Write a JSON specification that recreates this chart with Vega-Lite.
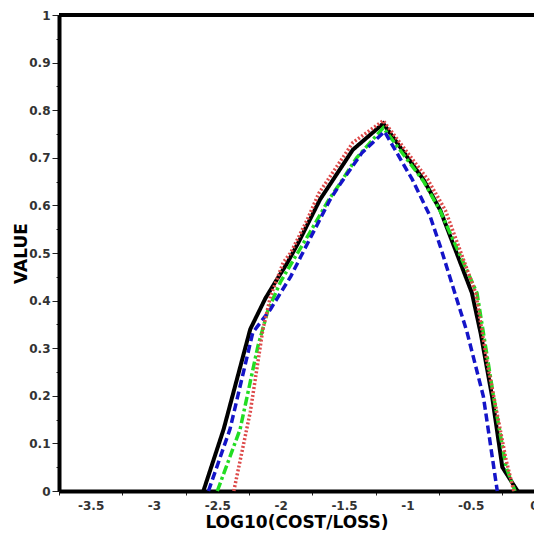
{
  "$schema": "https://vega.github.io/schema/vega-lite/v6.json",
  "width": 475,
  "height": 476,
  "autosize": {"type": "none"},
  "padding": {"left": 59, "top": 15, "right": 0, "bottom": 43},
  "background": "white",
  "config": {
    "view": {"stroke": null},
    "axis": {
      "grid": false,
      "domainColor": "black",
      "domainWidth": 4,
      "tickColor": "#222",
      "tickWidth": 1,
      "labelFont": "DejaVu Sans",
      "labelFontWeight": "bold",
      "labelFontSize": 12,
      "labelColor": "#333",
      "titleFont": "DejaVu Sans",
      "titleFontWeight": "bold",
      "titleFontSize": 17,
      "titleColor": "black"
    }
  },
  "data": {
    "values": [
      {"s": "black", "x": -2.61, "y": 0},
      {"s": "black", "x": -2.45, "y": 0.13},
      {"s": "black", "x": -2.33, "y": 0.25},
      {"s": "black", "x": -2.24, "y": 0.34},
      {"s": "black", "x": -2.12, "y": 0.405},
      {"s": "black", "x": -2.04, "y": 0.44},
      {"s": "black", "x": -1.95, "y": 0.478},
      {"s": "black", "x": -1.86, "y": 0.522},
      {"s": "black", "x": -1.69, "y": 0.612},
      {"s": "black", "x": -1.43, "y": 0.717},
      {"s": "black", "x": -1.19, "y": 0.772},
      {"s": "black", "x": -0.87, "y": 0.653},
      {"s": "black", "x": -0.74, "y": 0.59},
      {"s": "black", "x": -0.66, "y": 0.534},
      {"s": "black", "x": -0.49, "y": 0.416},
      {"s": "black", "x": -0.42, "y": 0.33},
      {"s": "black", "x": -0.33, "y": 0.197},
      {"s": "black", "x": -0.25, "y": 0.05},
      {"s": "black", "x": -0.13, "y": 0},
      {"s": "blue", "x": -2.57, "y": 0},
      {"s": "blue", "x": -2.4, "y": 0.13},
      {"s": "blue", "x": -2.22, "y": 0.333},
      {"s": "blue", "x": -2.08, "y": 0.382},
      {"s": "blue", "x": -1.92, "y": 0.451},
      {"s": "blue", "x": -1.84, "y": 0.493},
      {"s": "blue", "x": -1.61, "y": 0.612},
      {"s": "blue", "x": -1.53, "y": 0.645},
      {"s": "blue", "x": -1.36, "y": 0.71},
      {"s": "blue", "x": -1.18, "y": 0.755},
      {"s": "blue", "x": -0.96, "y": 0.654},
      {"s": "blue", "x": -0.82, "y": 0.577},
      {"s": "blue", "x": -0.74, "y": 0.514},
      {"s": "blue", "x": -0.53, "y": 0.335},
      {"s": "blue", "x": -0.4, "y": 0.199},
      {"s": "blue", "x": -0.29, "y": 0},
      {"s": "green", "x": -2.5, "y": 0},
      {"s": "green", "x": -2.32, "y": 0.13},
      {"s": "green", "x": -2.18, "y": 0.304},
      {"s": "green", "x": -2.1, "y": 0.38},
      {"s": "green", "x": -2.0, "y": 0.44},
      {"s": "green", "x": -1.9, "y": 0.485},
      {"s": "green", "x": -1.77, "y": 0.543},
      {"s": "green", "x": -1.62, "y": 0.612},
      {"s": "green", "x": -1.55, "y": 0.639},
      {"s": "green", "x": -1.4, "y": 0.7},
      {"s": "green", "x": -1.19, "y": 0.763},
      {"s": "green", "x": -0.87, "y": 0.65},
      {"s": "green", "x": -0.74, "y": 0.588},
      {"s": "green", "x": -0.45, "y": 0.416},
      {"s": "green", "x": -0.32, "y": 0.2},
      {"s": "green", "x": -0.22, "y": 0.05},
      {"s": "green", "x": -0.15, "y": 0},
      {"s": "red", "x": -2.37, "y": 0},
      {"s": "red", "x": -2.24, "y": 0.166},
      {"s": "red", "x": -2.14, "y": 0.34},
      {"s": "red", "x": -2.08, "y": 0.409},
      {"s": "red", "x": -1.98, "y": 0.48},
      {"s": "red", "x": -1.92, "y": 0.501},
      {"s": "red", "x": -1.79, "y": 0.57},
      {"s": "red", "x": -1.7, "y": 0.625},
      {"s": "red", "x": -1.43, "y": 0.732},
      {"s": "red", "x": -1.19, "y": 0.778},
      {"s": "red", "x": -0.84, "y": 0.655},
      {"s": "red", "x": -0.7, "y": 0.59},
      {"s": "red", "x": -0.46, "y": 0.416},
      {"s": "red", "x": -0.37, "y": 0.27},
      {"s": "red", "x": -0.22, "y": 0.065},
      {"s": "red", "x": -0.16, "y": 0}
    ]
  },
  "encoding": {
    "x": {
      "field": "x",
      "type": "quantitative",
      "scale": {"domain": [-3.75, 0], "nice": false, "zero": false},
      "axis": {
        "title": "LOG10(COST/LOSS)",
        "values": [-3.75, -3.5, -3.25, -3, -2.75, -2.5, -2.25, -2, -1.75, -1.5, -1.25, -1, -0.75, -0.5, -0.25, 0],
        "labelExpr": "abs(datum.value*2 - round(datum.value*2)) < 0.001 ? (datum.value + '') : ''",
        "labelFlush": false,
        "labelOverlap": false,
        "tickSize": 4,
        "tickOpacity": {"condition": {"test": "abs(datum.value*2 - round(datum.value*2)) < 0.001", "value": 0}, "value": 1},
        "labelPadding": 5,
        "titlePadding": 3
      }
    },
    "y": {
      "field": "y",
      "type": "quantitative",
      "scale": {"domain": [0, 1], "nice": false},
      "axis": {
        "title": "VALUE",
        "values": [0, 0.05, 0.1, 0.15, 0.2, 0.25, 0.3, 0.35, 0.4, 0.45, 0.5, 0.55, 0.6, 0.65, 0.7, 0.75, 0.8, 0.85, 0.9, 0.95, 1],
        "labelExpr": "abs(datum.value*10 - round(datum.value*10)) < 0.001 ? (datum.value + '') : ''",
        "labelOverlap": false,
        "tickSize": {"condition": {"test": "abs(datum.value*10 - round(datum.value*10)) < 0.001", "value": 7}, "value": 3},
        "labelPadding": 2,
        "titlePadding": -2
      }
    },
    "color": {
      "field": "s",
      "type": "nominal",
      "legend": null,
      "scale": {"domain": ["black", "blue", "green", "red"], "range": ["#000000", "#1414c8", "#22dd22", "#dd4a4a"]}
    },
    "strokeDash": {
      "field": "s",
      "type": "nominal",
      "legend": null,
      "scale": {"domain": ["black", "blue", "green", "red"], "range": [[1, 0], [8, 4], [9, 3, 3, 3], [2, 2]]}
    }
  },
  "layer": [
    {"transform": [{"filter": "datum.s === 'black'"}], "mark": {"type": "line", "strokeWidth": 4}},
    {"transform": [{"filter": "datum.s === 'green'"}], "mark": {"type": "line", "strokeWidth": 3.5}},
    {"transform": [{"filter": "datum.s === 'blue'"}], "mark": {"type": "line", "strokeWidth": 3.5}},
    {"transform": [{"filter": "datum.s === 'red'"}], "mark": {"type": "line", "strokeWidth": 3.5}},
    {"mark": {"type": "rule", "color": "black", "strokeWidth": 4}, "encoding": {"y": {"datum": 1}, "x": {"value": 0}, "x2": {"value": 475}, "color": {"value": "black"}, "strokeDash": {"value": [1, 0]}}}
  ]
}
